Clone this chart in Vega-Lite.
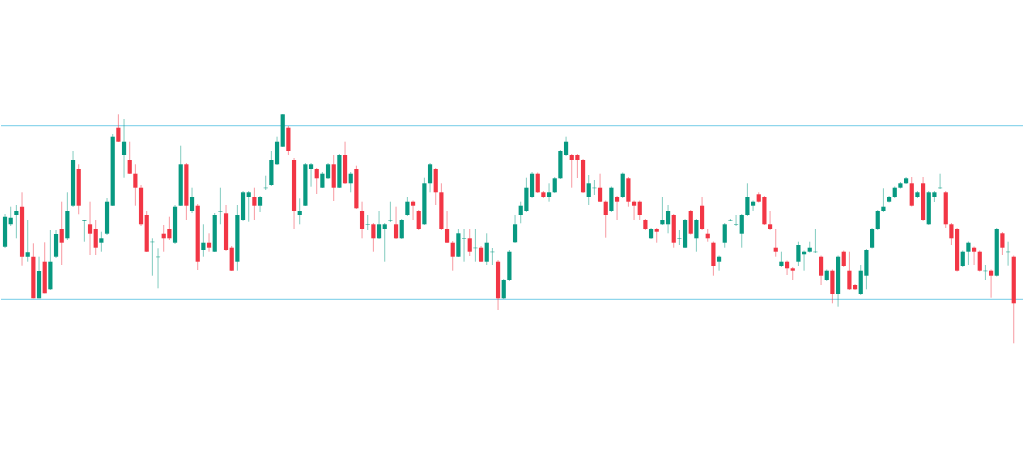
{
  "$schema": "https://vega.github.io/schema/vega-lite/v6.json",
  "width": 1024,
  "height": 458,
  "autosize": {"type": "fit", "contains": "padding"},
  "padding": 0,
  "background": "#ffffff",
  "config": {"view": {"stroke": null}},
  "datasets": {
    "candles": [
      {"i":0,"o":211.3,"h":244,"l":210,"c":241.3},
      {"i":1,"o":233.7,"h":251.3,"l":232,"c":240.3},
      {"i":2,"o":243,"h":253,"l":219.7,"c":247},
      {"i":3,"o":251.3,"h":265.7,"l":192.3,"c":201.3},
      {"i":4,"o":201.3,"h":238,"l":196.3,"c":205.7},
      {"i":5,"o":201.3,"h":214.7,"l":159.7,"c":159.7},
      {"i":6,"o":159.7,"h":201.3,"l":159.7,"c":187},
      {"i":7,"o":196.3,"h":215.7,"l":164.7,"c":164.7},
      {"i":8,"o":168.7,"h":228,"l":168,"c":196.3},
      {"i":9,"o":201.3,"h":228,"l":200,"c":224},
      {"i":10,"o":229,"h":256.3,"l":193,"c":215.3},
      {"i":11,"o":219.7,"h":265.7,"l":218,"c":247},
      {"i":12,"o":252.3,"h":307,"l":251,"c":298},
      {"i":13,"o":289,"h":293.7,"l":243.7,"c":252.3},
      {"i":14,"o":237.3,"h":238,"l":216.3,"c":238},
      {"i":15,"o":233.7,"h":256.3,"l":203,"c":224.3},
      {"i":16,"o":229,"h":238,"l":203,"c":210.3},
      {"i":17,"o":215.3,"h":226.3,"l":206.3,"c":219.7},
      {"i":18,"o":224.3,"h":260,"l":223,"c":256.3},
      {"i":19,"o":252.3,"h":324,"l":252,"c":321.3},
      {"i":20,"o":330.3,"h":343.7,"l":316,"c":316.3},
      {"i":21,"o":303,"h":339,"l":280.3,"c":316.3},
      {"i":22,"o":298,"h":316.3,"l":284,"c":284.3},
      {"i":23,"o":284.3,"h":293.7,"l":252.3,"c":270.3},
      {"i":24,"o":270.3,"h":273,"l":232,"c":233.7},
      {"i":25,"o":243,"h":247,"l":206,"c":206.3},
      {"i":26,"o":215.8,"h":219.7,"l":182.3,"c":216.3},
      {"i":27,"o":200.8,"h":209.7,"l":169.7,"c":201.3},
      {"i":28,"o":224.3,"h":233,"l":206.3,"c":219.7},
      {"i":29,"o":229,"h":241.3,"l":218,"c":219.7},
      {"i":30,"o":215.3,"h":253,"l":214,"c":251.3},
      {"i":31,"o":252.3,"h":312.3,"l":252,"c":293.7},
      {"i":32,"o":293.7,"h":295,"l":238,"c":252.3},
      {"i":33,"o":247,"h":270.3,"l":245,"c":261},
      {"i":34,"o":252.3,"h":254,"l":188,"c":196.3},
      {"i":35,"o":208,"h":233.7,"l":201.3,"c":215.3},
      {"i":36,"o":215.3,"h":224.7,"l":206.3,"c":210.3},
      {"i":37,"o":206.3,"h":245,"l":206,"c":243},
      {"i":38,"o":246.5,"h":270.3,"l":233.7,"c":247},
      {"i":39,"o":244.7,"h":253,"l":207,"c":208},
      {"i":40,"o":210.3,"h":212,"l":187,"c":187.3},
      {"i":41,"o":196.3,"h":253,"l":187.3,"c":243},
      {"i":42,"o":238,"h":267,"l":237,"c":265.7},
      {"i":43,"o":261,"h":267,"l":236.3,"c":265.7},
      {"i":44,"o":261,"h":270.3,"l":238,"c":252.3},
      {"i":45,"o":252.3,"h":262,"l":246,"c":261},
      {"i":46,"o":269.8,"h":282.3,"l":268,"c":270.3},
      {"i":47,"o":273,"h":307,"l":272,"c":298},
      {"i":48,"o":293.7,"h":321.3,"l":293,"c":316.3},
      {"i":49,"o":311.3,"h":344,"l":311,"c":343.7},
      {"i":50,"o":330.3,"h":332,"l":303,"c":307},
      {"i":51,"o":298,"h":300,"l":229,"c":247},
      {"i":52,"o":243,"h":259.7,"l":233.7,"c":247},
      {"i":53,"o":252.3,"h":295,"l":252,"c":293.7},
      {"i":54,"o":289,"h":295,"l":271.3,"c":293.7},
      {"i":55,"o":289,"h":290,"l":264,"c":279.7},
      {"i":56,"o":270.3,"h":286,"l":270,"c":284.3},
      {"i":57,"o":279.7,"h":295,"l":279,"c":293.7},
      {"i":58,"o":293.7,"h":303,"l":257,"c":270.3},
      {"i":59,"o":270.3,"h":304,"l":270,"c":303},
      {"i":60,"o":303,"h":316.3,"l":274,"c":274.7},
      {"i":61,"o":274.7,"h":286,"l":265.7,"c":284.3},
      {"i":62,"o":289,"h":292.3,"l":249,"c":249.7},
      {"i":63,"o":247,"h":256.3,"l":219.7,"c":229},
      {"i":64,"o":233.2,"h":243,"l":228,"c":233.7},
      {"i":65,"o":233.7,"h":235,"l":206.3,"c":219.7},
      {"i":66,"o":219.7,"h":247,"l":219,"c":233.7},
      {"i":67,"o":229,"h":235,"l":196.3,"c":233.7},
      {"i":68,"o":237.5,"h":256.3,"l":236,"c":238},
      {"i":69,"o":233.7,"h":251.3,"l":219,"c":219.7},
      {"i":70,"o":219.7,"h":239,"l":219,"c":238},
      {"i":71,"o":243,"h":261,"l":242,"c":256.3},
      {"i":72,"o":256.3,"h":257.5,"l":238,"c":252.3},
      {"i":73,"o":247,"h":248,"l":228,"c":229},
      {"i":74,"o":233.7,"h":280.3,"l":233,"c":274.7},
      {"i":75,"o":274.7,"h":295,"l":265.7,"c":293.7},
      {"i":76,"o":289,"h":290,"l":253,"c":265.7},
      {"i":77,"o":265.7,"h":274.7,"l":228,"c":229},
      {"i":78,"o":229,"h":247,"l":215,"c":215.3},
      {"i":79,"o":215.3,"h":217,"l":187.3,"c":201.3},
      {"i":80,"o":201.3,"h":229,"l":201,"c":224.7},
      {"i":81,"o":219.2,"h":229,"l":196.3,"c":219.7},
      {"i":82,"o":219.7,"h":229,"l":202,"c":206.3},
      {"i":83,"o":209.8,"h":229,"l":196.3,"c":210.3},
      {"i":84,"o":210.3,"h":212,"l":196,"c":196.3},
      {"i":85,"o":196.3,"h":224.7,"l":193,"c":215.3},
      {"i":86,"o":205.8,"h":210,"l":193,"c":206.3},
      {"i":87,"o":196.3,"h":198,"l":148,"c":159.7},
      {"i":88,"o":159.7,"h":179,"l":159,"c":178},
      {"i":89,"o":178,"h":208,"l":177,"c":206.3},
      {"i":90,"o":215.7,"h":243,"l":215,"c":233.7},
      {"i":91,"o":243,"h":256.3,"l":234.7,"c":252.3},
      {"i":92,"o":247,"h":280.3,"l":246,"c":270.3},
      {"i":93,"o":261,"h":286,"l":260,"c":284.3},
      {"i":94,"o":284.3,"h":285.5,"l":265,"c":265.7},
      {"i":95,"o":265.7,"h":267,"l":260,"c":261},
      {"i":96,"o":261,"h":274.7,"l":256.3,"c":265.7},
      {"i":97,"o":265.7,"h":281,"l":265,"c":279.7},
      {"i":98,"o":279.7,"h":308,"l":279,"c":307},
      {"i":99,"o":303,"h":321.3,"l":302,"c":316.3},
      {"i":100,"o":303,"h":304,"l":270.3,"c":298},
      {"i":101,"o":303,"h":304,"l":280,"c":298},
      {"i":102,"o":298,"h":299,"l":265,"c":265.7},
      {"i":103,"o":261,"h":283,"l":253,"c":274.7},
      {"i":104,"o":269.8,"h":278,"l":263,"c":270.3},
      {"i":105,"o":270.3,"h":284.3,"l":256,"c":256.3},
      {"i":106,"o":256.3,"h":257.5,"l":220.3,"c":243},
      {"i":107,"o":247,"h":271.5,"l":246,"c":270.3},
      {"i":108,"o":261,"h":262,"l":238,"c":256.3},
      {"i":109,"o":261,"h":285.5,"l":260,"c":284.3},
      {"i":110,"o":279.7,"h":281,"l":251.3,"c":256.3},
      {"i":111,"o":256.3,"h":257.5,"l":238,"c":252.3},
      {"i":112,"o":256.3,"h":257.5,"l":238,"c":243},
      {"i":113,"o":238,"h":239,"l":228,"c":229},
      {"i":114,"o":219.7,"h":230,"l":219,"c":229},
      {"i":115,"o":229,"h":230,"l":215.3,"c":226.3},
      {"i":116,"o":233.7,"h":261,"l":233,"c":238},
      {"i":117,"o":233.7,"h":253,"l":224.7,"c":247},
      {"i":118,"o":243,"h":244,"l":210.3,"c":215.3},
      {"i":119,"o":219.2,"h":228,"l":213,"c":219.7},
      {"i":120,"o":210.3,"h":239,"l":210,"c":238},
      {"i":121,"o":247,"h":248,"l":223.5,"c":224.3},
      {"i":122,"o":219.7,"h":239,"l":206.3,"c":238},
      {"i":123,"o":252.3,"h":261,"l":228,"c":229},
      {"i":124,"o":224.3,"h":229,"l":216.3,"c":219.7},
      {"i":125,"o":215.3,"h":216.5,"l":182.3,"c":192},
      {"i":126,"o":196.3,"h":202.5,"l":187.3,"c":201.3},
      {"i":127,"o":215.3,"h":235,"l":210.3,"c":233.7},
      {"i":128,"o":237.5,"h":239,"l":237,"c":238},
      {"i":129,"o":233.2,"h":243,"l":232,"c":233.7},
      {"i":130,"o":224.3,"h":244,"l":210.3,"c":243},
      {"i":131,"o":243,"h":274.7,"l":242,"c":261},
      {"i":132,"o":252.3,"h":257.5,"l":247,"c":256.3},
      {"i":133,"o":263.7,"h":265.7,"l":255.5,"c":256.3},
      {"i":134,"o":261,"h":262,"l":233,"c":233.7},
      {"i":135,"o":233.7,"h":247,"l":228,"c":229},
      {"i":136,"o":210.3,"h":229,"l":201.3,"c":206.3},
      {"i":137,"o":192,"h":206.3,"l":191,"c":196.3},
      {"i":138,"o":196.3,"h":197.5,"l":183,"c":189.7},
      {"i":139,"o":189.7,"h":191,"l":178,"c":187.3},
      {"i":140,"o":196.3,"h":216.3,"l":192,"c":213},
      {"i":141,"o":203.7,"h":207.5,"l":187.3,"c":206.3},
      {"i":142,"o":206.3,"h":216.3,"l":205.5,"c":210.3},
      {"i":143,"o":205.8,"h":229,"l":205,"c":206.3},
      {"i":144,"o":201.3,"h":202.5,"l":173,"c":182.3},
      {"i":145,"o":178,"h":188.5,"l":177,"c":187.3},
      {"i":146,"o":187.3,"h":188.5,"l":154.7,"c":164},
      {"i":147,"o":164,"h":202.5,"l":151.3,"c":201.3},
      {"i":148,"o":206.3,"h":207.5,"l":191,"c":192},
      {"i":149,"o":187.3,"h":206.3,"l":168,"c":168.7},
      {"i":150,"o":173,"h":174,"l":168,"c":168.7},
      {"i":151,"o":164,"h":193,"l":163,"c":187.3},
      {"i":152,"o":182.3,"h":209,"l":168.7,"c":208},
      {"i":153,"o":210.3,"h":230,"l":209.5,"c":229},
      {"i":154,"o":229,"h":248,"l":228,"c":247},
      {"i":155,"o":247,"h":269.7,"l":246,"c":251.3},
      {"i":156,"o":256.3,"h":262,"l":255.5,"c":261},
      {"i":157,"o":261,"h":271.5,"l":260,"c":270.3},
      {"i":158,"o":270.3,"h":276,"l":269.5,"c":274.7},
      {"i":159,"o":274.7,"h":281,"l":274,"c":279.7},
      {"i":160,"o":274.7,"h":281,"l":251.5,"c":252.3},
      {"i":161,"o":261,"h":267,"l":260,"c":265.7},
      {"i":162,"o":274.7,"h":281,"l":237,"c":238},
      {"i":163,"o":233.7,"h":267,"l":233,"c":265.7},
      {"i":164,"o":261,"h":267,"l":256,"c":265.7},
      {"i":165,"o":269.8,"h":284.3,"l":269,"c":270.3},
      {"i":166,"o":265.7,"h":267,"l":230,"c":233.7},
      {"i":167,"o":233.7,"h":235,"l":213,"c":219.7},
      {"i":168,"o":229,"h":230,"l":186.5,"c":187.3},
      {"i":169,"o":192,"h":207.5,"l":191,"c":206.3},
      {"i":170,"o":206.3,"h":216.5,"l":193,"c":215.3},
      {"i":171,"o":210.3,"h":211.5,"l":193,"c":206.3},
      {"i":172,"o":206.3,"h":207.5,"l":186.5,"c":187.3},
      {"i":173,"o":186.8,"h":193,"l":178,"c":187.3},
      {"i":174,"o":187.3,"h":188.5,"l":160.3,"c":182.3},
      {"i":175,"o":182.3,"h":230,"l":181.5,"c":229},
      {"i":176,"o":224.7,"h":226,"l":203,"c":210.3},
      {"i":177,"o":205.8,"h":216.3,"l":192.3,"c":206.3},
      {"i":178,"o":201.3,"h":202.5,"l":114.7,"c":154.7}
    ],
    "levels": [
      {"level": 332.3},
      {"level": 158.7}
    ]
  },
  "layer": [
    {
      "data": {"name": "levels"},
      "mark": {"type": "rule", "color": "#8fd6ec", "strokeWidth": 1.2},
      "encoding": {
        "y": {"field": "level", "type": "quantitative", "scale": {"domain": [0, 458], "nice": false, "zero": false}, "axis": null}
      }
    },
    {
      "data": {"name": "candles"},
      "mark": {"type": "rule", "strokeWidth": 1, "opacity": 0.5, "clip": true},
      "encoding": {
        "x": {"field": "i", "type": "quantitative", "scale": {"domain": [0.17, 178.75], "nice": false, "zero": false}, "axis": null},
        "y": {"field": "l", "type": "quantitative", "scale": {"domain": [0, 458], "nice": false, "zero": false}, "axis": null},
        "y2": {"field": "h"},
        "color": {"condition": {"test": "datum.c >= datum.o", "value": "#089981"}, "value": "#f23645"}
      }
    },
    {
      "data": {"name": "candles"},
      "mark": {"type": "bar", "size": 4.2, "clip": true},
      "encoding": {
        "x": {"field": "i", "type": "quantitative", "scale": {"domain": [0.17, 178.75], "nice": false, "zero": false}, "axis": null},
        "y": {"field": "o", "type": "quantitative", "scale": {"domain": [0, 458], "nice": false, "zero": false}, "axis": null},
        "y2": {"field": "c"},
        "color": {"condition": {"test": "datum.c >= datum.o", "value": "#089981"}, "value": "#f23645"}
      }
    }
  ]
}
